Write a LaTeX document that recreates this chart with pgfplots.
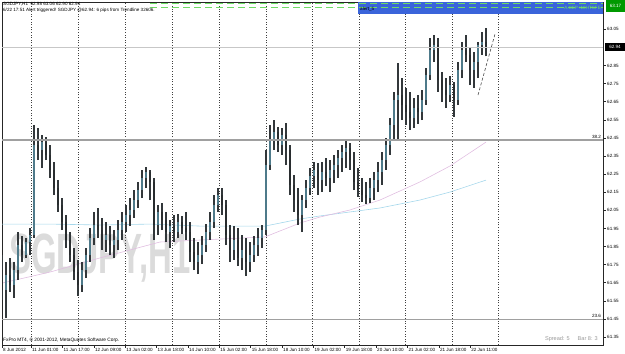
\documentclass[border=0pt]{standalone}
\usepackage{pgfplots}
\pgfplotsset{compat=1.18}
\usepackage{pgfplotstable}
\usepackage{fontspec}
\setmainfont{Liberation Sans}
\definecolor{wick}{RGB}{50,55,58}
\definecolor{bull}{RGB}{78,122,138}
\definecolor{bear}{RGB}{40,44,46}
\definecolor{maBlue}{RGB}{165,215,235}
\definecolor{maPink}{RGB}{225,190,225}
\definecolor{alertBlue}{RGB}{58,100,218}
\definecolor{lgreen}{RGB}{110,220,100}
\definecolor{fibo}{RGB}{160,160,160}

\pgfplotstableread{
x o h l c
2 61.720 61.803 61.555 61.610
6 61.610 61.765 61.455 61.693
10 61.693 61.787 61.599 61.637
14 61.637 61.765 61.566 61.720
18 61.720 61.930 61.665 61.858
22 61.858 61.908 61.765 61.803
26 61.803 61.897 61.787 61.875
30 61.875 61.952 61.803 61.914
34 61.914 62.521 61.897 62.411
38 62.411 62.505 62.328 62.383
42 62.383 62.466 62.284 62.427
46 62.427 62.455 62.328 62.356
50 62.356 62.411 62.229 62.273
54 62.273 62.317 62.135 62.173
58 62.173 62.217 62.041 62.079
62 62.079 62.118 61.941 61.986
66 61.986 62.024 61.842 61.886
70 61.886 61.930 61.765 61.803
74 61.803 61.842 61.665 61.709
78 61.709 61.776 61.577 61.637
82 61.637 61.765 61.599 61.720
86 61.720 61.842 61.676 61.803
90 61.803 61.952 61.765 61.897
94 61.897 62.041 61.858 61.969
98 61.969 62.063 61.897 61.941
102 61.941 62.008 61.831 61.886
106 61.886 61.986 61.820 61.914
110 61.914 61.963 61.803 61.858
114 61.858 61.941 61.787 61.886
118 61.886 61.997 61.831 61.941
122 61.941 62.041 61.886 61.986
126 61.986 62.079 61.930 62.024
130 62.024 62.118 61.963 62.052
134 62.052 62.162 62.008 62.107
138 62.107 62.207 62.063 62.162
142 62.162 62.273 62.118 62.229
146 62.229 62.289 62.173 62.262
150 62.262 62.273 62.107 62.207
154 62.207 62.229 61.886 61.969
158 61.969 62.079 61.914 62.041
162 62.041 62.090 61.941 61.997
166 61.997 62.041 61.875 61.930
170 61.930 61.997 61.842 61.963
174 61.963 62.024 61.875 61.930
178 61.930 62.030 61.897 61.986
182 61.986 62.019 61.919 61.952
186 61.952 62.041 61.886 61.930
190 61.930 61.986 61.765 61.820
194 61.820 61.897 61.720 61.765
198 61.765 61.875 61.698 61.803
202 61.803 61.908 61.753 61.858
206 61.858 61.974 61.820 61.930
210 61.930 62.041 61.886 61.986
214 61.986 62.135 61.952 62.079
218 62.079 62.173 62.041 62.135
222 62.135 62.173 62.024 62.079
226 62.079 62.107 61.858 61.914
230 61.914 61.969 61.765 61.831
234 61.831 61.963 61.776 61.886
238 61.886 61.952 61.742 61.787
242 61.787 61.914 61.720 61.831
246 61.831 61.897 61.687 61.765
250 61.765 61.875 61.709 61.803
254 61.803 61.908 61.765 61.858
258 61.858 61.952 61.798 61.897
262 61.897 61.969 61.842 61.941
266 61.941 62.383 61.914 62.300
270 62.300 62.521 62.273 62.439
274 62.439 62.549 62.383 62.483
278 62.483 62.510 62.372 62.411
282 62.411 62.505 62.356 62.466
286 62.466 62.532 62.300 62.383
290 62.383 62.411 62.135 62.190
294 62.190 62.245 62.041 62.107
298 62.107 62.173 61.969 62.024
302 62.024 62.135 61.930 62.107
306 62.107 62.217 62.063 62.173
310 62.173 62.284 62.135 62.240
314 62.240 62.317 62.173 62.273
318 62.273 62.311 62.135 62.217
322 62.217 62.317 62.151 62.262
326 62.262 62.339 62.184 62.229
330 62.229 62.328 62.151 62.273
334 62.273 62.356 62.201 62.300
338 62.300 62.383 62.229 62.339
342 62.339 62.411 62.262 62.372
346 62.372 62.439 62.284 62.394
350 62.394 62.422 62.273 62.328
354 62.328 62.372 62.162 62.207
358 62.207 62.284 62.124 62.162
362 62.162 62.229 62.096 62.135
366 62.135 62.207 62.085 62.118
370 62.118 62.229 62.090 62.173
374 62.173 62.262 62.107 62.217
378 62.217 62.317 62.151 62.262
382 62.262 62.372 62.190 62.328
386 62.328 62.450 62.273 62.411
390 62.411 62.560 62.356 62.521
394 62.521 62.704 62.439 62.660
398 62.660 62.864 62.439 62.687
402 62.687 62.781 62.549 62.632
406 62.632 62.726 62.521 62.593
410 62.593 62.704 62.494 62.560
414 62.560 62.671 62.505 62.615
418 62.615 62.687 62.527 62.593
422 62.593 62.715 62.549 62.660
426 62.660 62.836 62.632 62.798
430 62.798 63.002 62.770 62.936
434 62.936 63.019 62.869 62.963
438 62.963 63.002 62.704 62.770
442 62.770 62.814 62.648 62.715
446 62.715 62.781 62.615 62.687
450 62.687 62.792 62.648 62.742
454 62.742 62.759 62.566 62.660
458 62.660 62.869 62.632 62.825
462 62.825 62.980 62.781 62.936
466 62.936 63.019 62.869 62.908
470 62.908 62.947 62.742 62.825
474 62.825 62.925 62.726 62.869
478 62.869 62.980 62.781 62.963
482 62.963 63.035 62.908 62.980
486 62.980 63.060 62.900 62.940
}\candles

\begin{document}
\begin{tikzpicture}
\useasboundingbox (0,0) rectangle (625bp,354bp);
% watermark
\node[anchor=base west, inner sep=0pt, text=black!14, font=\fontsize{57}{57}\selectfont\bfseries, xscale=0.58] at (9bp,80bp) {SGDJPY,H1};

\begin{axis}[
  at={(2bp,9bp)}, anchor=south west, scale only axis,
  width=601bp, height=343bp,
  xmin=2, xmax=603, ymin=61.306, ymax=63.201,
  axis line style={black!85, line width=0.6bp},
  tick style={black!85, line width=0.5bp},
  major tick length=2.5bp,
  tick align=outside,
  xtick pos=bottom, ytick pos=right, yticklabel pos=right,
  xtick={2,31,62.4,93.8,125.1,156.5,187.9,219.2,250.6,282,313.3,344.7,376,407.4,438.8,470.1},
  xticklabels={8 Jun 2012, 11 Jun 01:00, 11 Jun 17:00, 12 Jun 09:00, 13 Jun 02:00, 13 Jun 18:00, 14 Jun 10:00, 15 Jun 02:00, 15 Jun 18:00, 18 Jun 10:00, 19 Jun 02:00, 19 Jun 18:00, 20 Jun 10:00, 21 Jun 02:00, 21 Jun 18:00, 22 Jun 11:00},
  xticklabel style={anchor=north west, font=\fontsize{4.6}{5}\selectfont, inner sep=0pt, xshift=1bp, yshift=-1bp},
  ytick={61.35,61.45,61.55,61.65,61.75,61.85,61.95,62.05,62.15,62.25,62.35,62.45,62.55,62.65,62.75,62.85,63.05},
  yticklabel style={anchor=west, font=\fontsize{4.6}{5}\selectfont, inner sep=0pt, xshift=1.5bp,
    /pgf/number format/.cd, fixed, fixed zerofill, precision=2, assume math mode=true},
  extra x ticks={31,78,125,172,219,266,312,359,405,452,498},
  extra x tick style={grid=major, major tick length=0pt, xticklabel={}},
  major grid style={black!75, line width=0.5bp, dash pattern=on 1bp off 1.6bp},
]
% moving averages
\addplot[maBlue, line width=0.6bp, mark=none] coordinates {(2,61.974) (50,61.974) (100,61.969) (150,61.974) (200,61.963) (265,61.963) (300,62.002) (320,62.019) (350,62.041) (380,62.063) (420,62.107) (450,62.151) (486,62.217)};
\addplot[maPink, line width=0.6bp, mark=none] coordinates {(2,61.648) (50,61.709) (100,61.787) (160,61.875) (200,61.886) (265,61.903) (300,61.980) (320,62.013) (350,62.052) (380,62.107) (420,62.207) (450,62.295) (486,62.427)};
% wicks (low to high)
\addplot[wick, line width=1.15bp, mark=none, -, quiver={u=0, v={\thisrow{h}-\thisrow{l}}}]
  table[x=x, y=l] {\candles};
% bull bodies (open to close)
\addplot[bull, line width=2.8bp, mark=none, -, quiver={u=0, v={max(\thisrow{c}-\thisrow{o},0)}}]
  table[x=x, y=o] {\candles};
% bear bodies (close to open)
\addplot[bear, line width=2.8bp, mark=none, -, quiver={u=0, v={max(\thisrow{o}-\thisrow{c},0)}}]
  table[x=x, y=c] {\candles};
% trendline
\addplot[black!70, line width=0.6bp, dash pattern=on 3bp off 2bp, mark=none] coordinates {(478,62.687) (495,63.024)};
% horizontal lines
\draw[black!22, line width=0.5bp] (axis cs:2,62.952) -- (axis cs:603,62.952);
\draw[fibo, line width=1.2bp] (axis cs:2,62.439) -- (axis cs:603,62.439);
\draw[fibo, line width=1.2bp] (axis cs:2,61.449) -- (axis cs:603,61.449);
\end{axis}

% alert rectangle and green dashed lines
\fill[alertBlue] (358bp,340bp) rectangle (603bp,352bp);
\draw[lgreen, line width=0.8bp, dash pattern=on 7bp off 4bp] (150bp,350.5bp) -- (603bp,350.5bp);
\draw[lgreen, line width=0.8bp, dash pattern=on 7bp off 4bp] (150bp,346.5bp) -- (603bp,346.5bp);
\node[anchor=west, inner sep=0pt, font=\fontsize{4.6}{5}\selectfont] at (360bp,344.5bp) {alert\_5};
\node[anchor=east, inner sep=0pt, text=lgreen, font=\fontsize{4.6}{5}\selectfont] at (601bp,346bp) {A.CEP+10HTSFE};
% top-left texts
\node[anchor=west, inner sep=0pt, font=\fontsize{4.6}{5}\selectfont] at (3bp,350bp) {SGDJPY,H1\ \ 62.98 63.06 62.90 62.94};
\node[anchor=west, inner sep=0pt, font=\fontsize{4.6}{5}\selectfont] at (3bp,343.5bp) {6/22 17:51 Alert triggered! SGDJPY @62.94: 6 pips from Trendline 32606.};
% right-side price boxes
\fill[green!60!black] (606bp,342bp) rectangle (625bp,354bp);
\node[inner sep=0pt, text=white, font=\fontsize{4.6}{5}\selectfont] at (615.5bp,348bp) {63.17};
\fill[black] (605bp,303bp) rectangle (625bp,311bp);
\node[inner sep=0pt, text=white, font=\fontsize{4.6}{5}\selectfont] at (615bp,307bp) {62.94};
% fibo labels
\node[anchor=south east, inner sep=0.8pt, font=\fontsize{4.6}{5}\selectfont] at (602bp,214.5bp) {38.2};
\node[anchor=south east, inner sep=0.8pt, font=\fontsize{4.6}{5}\selectfont] at (602bp,35.5bp) {23.6};
% bottom texts
\node[anchor=west, inner sep=0pt, font=\fontsize{4.8}{5}\selectfont] at (3bp,14bp) {FxPro MT4, \textcopyright{} 2001-2012, MetaQuotes Software Corp.};
\node[anchor=east, inner sep=0pt, text=black!40, font=\fontsize{5.6}{6}\selectfont] at (598bp,15bp) {Spread: 5\hspace{8bp}Bar 8: 3};
\end{tikzpicture}
\end{document}
